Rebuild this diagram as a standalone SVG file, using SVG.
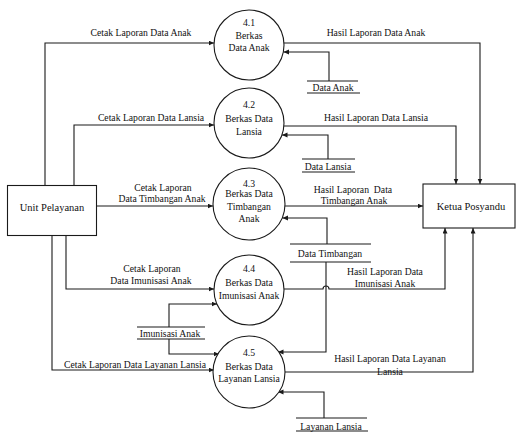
<svg xmlns="http://www.w3.org/2000/svg" width="518" height="432" viewBox="0 0 518 432" font-family="'Liberation Serif', 'DejaVu Serif', serif">
  <style>
    .shape { fill: #fff; stroke: #1a1a1a; stroke-width: 1.1; }
    .flow { fill: none; stroke: #1a1a1a; stroke-width: 1.1; marker-end: url(#arrow); }
    .store { fill: none; stroke: #1a1a1a; stroke-width: 1.2; }
    text { font-family: 'Liberation Serif', 'DejaVu Serif', serif; font-size: 9.7px; fill: #111; text-anchor: middle; }
    .big { font-size: 10.5px; }
  </style>
  <defs>
    <marker id="arrow" markerUnits="userSpaceOnUse" markerWidth="6" markerHeight="6" refX="5.5" refY="2.5" orient="auto">
      <path d="M0,0 L5.5,2.5 L0,5 z" fill="#1a1a1a"/>
    </marker>
  </defs>
  <rect width="518" height="432" fill="#fff"/>

  <!-- data flows -->
  <g id="connectors">
    <!-- Unit Pelayanan to processes -->
    <path class="flow" d="M45,185 V43 H214"/>
    <text x="141" y="36">Cetak Laporan Data Anak</text>
    <path class="flow" d="M74,185 V125 H214"/>
    <text x="151" y="121">Cetak Laporan Data Lansia</text>
    <path class="flow" d="M97,206 H213"/>
    <text x="163" y="191">Cetak Laporan</text>
    <text x="162" y="202">Data Timbangan Anak</text>
    <path class="flow" d="M66,236 V289 H214"/>
    <text x="152" y="272">Cetak Laporan</text>
    <text x="151" y="284">Data Imunisasi Anak</text>
    <path class="flow" d="M52,236 V370 H214"/>
    <text x="135" y="368">Cetak Laporan Data Layanan Lansia</text>

    <!-- processes to Ketua Posyandu -->
    <path class="flow" d="M284,43 H480 V184"/>
    <text x="376" y="36">Hasil Laporan Data Anak</text>
    <path class="flow" d="M284,126 H456 V184"/>
    <text x="376" y="121">Hasil Laporan Data Lansia</text>
    <path class="flow" d="M285,206 H423"/>
    <text x="353" y="193" xml:space="preserve" style="white-space:pre">Hasil Laporan  Data</text>
    <text x="354" y="204">Timbangan Anak</text>
    <path class="flow" d="M284,289 H323 A3,3 0 0 1 329,289 H445 V228"/>
    <text x="385" y="275">Hasil Laporan Data</text>
    <text x="385" y="287">Imunisasi Anak</text>
    <path class="flow" d="M284,372 H473 V228"/>
    <text x="390" y="362">Hasil Laporan Data Layanan</text>
    <text x="390" y="375">Lansia</text>

    <!-- data stores to processes -->
    <path class="flow" d="M329,81 V52 H283.5"/>
    <path class="flow" d="M328,159 V135 H282"/>
    <path class="flow" d="M327,244 V218 H282.5"/>
    <path class="flow" d="M326,262 V352 H278"/>
    <path class="flow" d="M169,327 V304 H217"/>
    <path class="flow" d="M169,339 V354 H219"/>
    <path class="flow" d="M324,418 V392 H278"/>
  </g>

  <!-- external entities -->
  <g id="unit-pelayanan">
    <rect class="shape" x="7.5" y="185.5" width="89" height="50"/>
    <text class="big" x="52" y="211">Unit Pelayanan</text>
  </g>
  <g id="ketua-posyandu">
    <rect class="shape" x="423" y="184" width="92" height="44"/>
    <text class="big" x="471" y="210">Ketua Posyandu</text>
  </g>

  <!-- processes -->
  <g id="proses-4-1">
    <circle class="shape" cx="249" cy="45" r="35"/>
    <text x="249" y="26">4.1</text>
    <text x="249" y="39">Berkas</text>
    <text x="249" y="51">Data Anak</text>
  </g>
  <g id="proses-4-2">
    <circle class="shape" cx="249" cy="123" r="35"/>
    <text x="249" y="108">4.2</text>
    <text x="249" y="122">Berkas Data</text>
    <text x="249" y="135">Lansia</text>
  </g>
  <g id="proses-4-3">
    <circle class="shape" cx="249" cy="204" r="36"/>
    <text x="249" y="187">4.3</text>
    <text x="249" y="197">Berkas Data</text>
    <text x="249" y="210">Timbangan</text>
    <text x="249" y="222">Anak</text>
  </g>
  <g id="proses-4-4">
    <circle class="shape" cx="249" cy="290" r="35"/>
    <text x="249" y="272">4.4</text>
    <text x="249" y="286">Berkas Data</text>
    <text x="249" y="299">Imunisasi Anak</text>
  </g>
  <g id="proses-4-5">
    <circle class="shape" cx="249" cy="372" r="36"/>
    <text x="249" y="356">4.5</text>
    <text x="249" y="370">Berkas Data</text>
    <text x="249" y="382">Layanan Lansia</text>
  </g>

  <!-- data stores -->
  <g id="store-data-anak">
    <path class="store" d="M307,81 H358 M307,93 H360"/>
    <text x="333" y="91">Data Anak</text>
  </g>
  <g id="store-data-lansia">
    <path class="store" d="M302,159 H355 M302,172 H355"/>
    <text x="328" y="169.5">Data Lansia</text>
  </g>
  <g id="store-data-timbangan">
    <path class="store" d="M290,244 H371 M290,262 H371"/>
    <text x="330" y="257">Data Timbangan</text>
  </g>
  <g id="store-imunisasi-anak">
    <path class="store" d="M137,327 H205 M137,339 H205"/>
    <text x="170" y="336.5">Imunisasi Anak</text>
  </g>
  <g id="store-layanan-lansia">
    <path class="store" d="M296,418 H367 M296,431 H368"/>
    <text x="331" y="429.5">Layanan Lansia</text>
  </g>
</svg>
